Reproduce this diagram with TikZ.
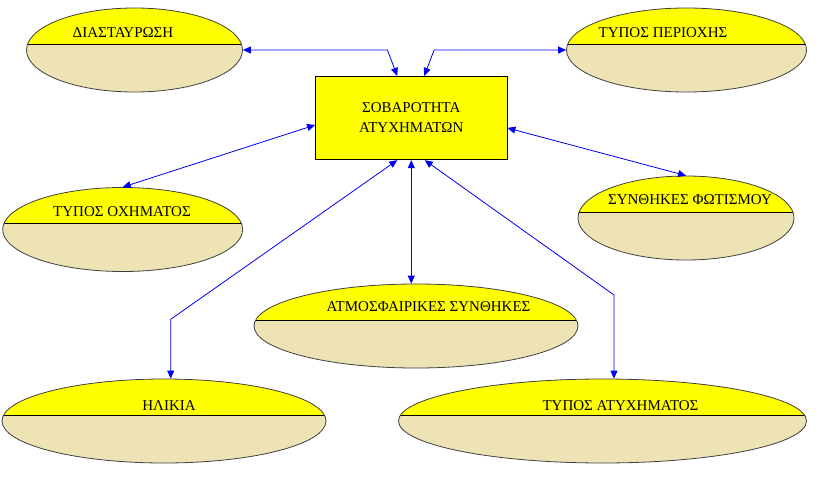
\documentclass[tikz,border=0pt]{standalone}
\usepackage{fontspec}
\setmainfont{Liberation Serif}
\usetikzlibrary{shapes.geometric,arrows.meta}
\definecolor{ybeige}{HTML}{EEE3B4}
\definecolor{ayel}{HTML}{FFFF00}
\definecolor{ablue}{HTML}{0000F0}
\begin{document}
\begin{tikzpicture}[x=1pt,y=-1pt,
  oval/.style={ellipse, draw=black!75, line width=0.8pt, fill=ybeige, inner sep=0pt,
    minimum height=84pt, minimum width=#1,
    path picture={
      \fill[ayel] (path picture bounding box.north west) rectangle ([yshift=-36pt]path picture bounding box.north east);
      \draw[black,line width=0.8pt] ([yshift=-36pt]path picture bounding box.north west) -- ([yshift=-36pt]path picture bounding box.north east);
    }},
  lbl/.style={anchor=base, inner sep=0pt, font=\fontsize{15}{18}\selectfont},
  centre/.style={draw=black, line width=0.8pt, fill=ayel, minimum width=191.5pt, minimum height=83.5pt, inner sep=0pt, align=center, font=\fontsize{15}{20}\selectfont},
  link/.style={draw=ablue, line width=0.8pt, {Triangle[length=8pt,width=7pt]}-{Triangle[length=8pt,width=7pt]}}]
\useasboundingbox (0,0) rectangle (823,479);

\node[centre] (c) at (411.25,118) {ΣΟΒΑΡΟΤΗΤΑ\\ΑΤΥΧΗΜΑΤΩΝ};

\node[oval=216pt] (d) at (134.5,50) {};
\node[oval=240pt] (p) at (686.5,50) {};
\node[oval=240pt] (o) at (122.7,229.5) {};
\node[oval=216pt] (f) at (686,218) {};
\node[oval=324pt] (a) at (416,326) {};
\node[oval=324pt] (h) at (164,421) {};
\node[oval=408pt] (t) at (602.5,421) {};

\node[lbl] (dt) at (123,37) {ΔΙΑΣΤΑΥΡΩΣΗ};
\node[lbl] (pt) at (663,37) {ΤΥΠΟΣ ΠΕΡΙΟΧΗΣ};
\node[lbl] (ot) at (122,216) {ΤΥΠΟΣ ΟΧΗΜΑΤΟΣ};
\node[lbl] (ft) at (690,204) {ΣΥΝΘΗΚΕΣ ΦΩΤΙΣΜΟΥ};
\node[lbl] (at) at (428.5,311.5) {ΑΤΜΟΣΦΑΙΡΙΚΕΣ ΣΥΝΘΗΚΕΣ};
\node[lbl] (ht) at (169,410) {ΗΛΙΚΙΑ};
\node[lbl] (tt) at (620.5,410) {ΤΥΠΟΣ ΑΤΥΧΗΜΑΤΟΣ};

\coordinate (hk) at (170.7,319.3);
\coordinate (tk) at (614,295);

\draw[link] (d.east) -- ++(144.5,0) -- ([xshift=-14pt]c.north);
\draw[link] (p.west) -- ++(-132,0) -- ([xshift=13pt]c.north);
\draw[link] ([yshift=-7pt]c.west) -- (o.north);
\draw[link] ([yshift=-10pt]c.east) -- (f.north);
\draw[link] (c.south) -- (c.south |- a.north);
\draw[link] ([xshift=-14pt]c.south) -- (hk) -- (hk |- h.north);
\draw[link] ([xshift=13.5pt]c.south) -- (tk) -- (tk |- t.north);
\end{tikzpicture}
\end{document}
